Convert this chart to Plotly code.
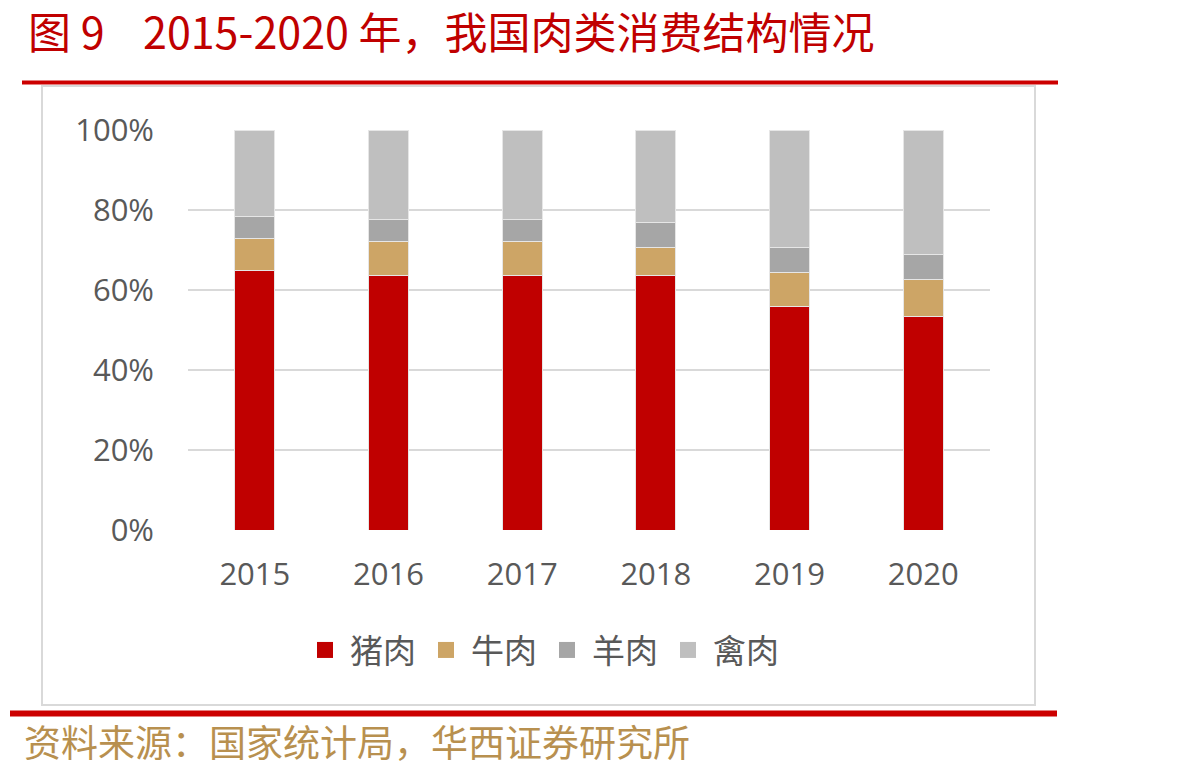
import plotly.graph_objects as go

years = ["2015", "2016", "2017", "2018", "2019", "2020"]
pork = [65.0, 63.6, 63.6, 63.6, 55.8, 53.3]
beef = [7.9, 8.6, 8.6, 7.1, 8.5, 9.4]
mutton = [5.4, 5.5, 5.5, 6.1, 6.3, 6.3]
poultry = [21.7, 22.3, 22.3, 23.2, 29.4, 31.0]
series_names = ["猪肉", "牛肉", "羊肉", "禽肉"]
colors = ["#C00000", "#CDA566", "#A6A6A6", "#BFBFBF"]

W, H = 1195, 772
L, R, T, B = 188, 990, 130, 530

def px(x):
    return (x - L) / (R - L)

def py(y):
    return (B - y) / (B - T)

fig = go.Figure()
for name, vals, c in zip(series_names, [pork, beef, mutton, poultry], colors):
    fig.add_trace(go.Bar(
        x=years, y=[v / 100 for v in vals], name=name,
        marker=dict(color=c, line=dict(color="#E6E6E6", width=1)),
        width=0.3, showlegend=False,
    ))
    fig.add_trace(go.Scatter(
        x=[None], y=[None], mode="markers", name=name,
        marker=dict(symbol="square", size=16, color=c),
        showlegend=True,
    ))

font_cjk = "Noto Sans CJK SC"
shapes = [
    dict(type="rect", xref="paper", yref="paper", x0=px(42), x1=px(1035), y0=py(86), y1=py(705),
         line=dict(color="#D9D9D9", width=2), layer="below"),
    dict(type="line", xref="paper", yref="paper", x0=px(22), x1=px(1058), y0=py(82.5), y1=py(82.5),
         line=dict(color="#CC0000", width=4)),
    dict(type="line", xref="paper", yref="paper", x0=px(10), x1=px(1057), y0=py(713.5), y1=py(713.5),
         line=dict(color="#CC0000", width=6)),
]

fig.update_layout(
    width=W, height=H,
    margin=dict(l=L, r=W - R, t=T, b=H - B),
    barmode="stack", bargap=0.7,
    plot_bgcolor="white", paper_bgcolor="white",
    shapes=shapes,
    xaxis=dict(showgrid=False, showline=False, ticks="", ticklabelstandoff=23,
               tickfont=dict(family="Open Sans", size=31, color="#595959")),
    yaxis=dict(range=[0, 1], dtick=0.2, tickformat=".0%", showgrid=True,
               gridcolor="#D9D9D9", gridwidth=2, zeroline=False, showline=False,
               ticks="", ticklen=0, ticklabelstandoff=33,
               tickfont=dict(family="Open Sans", size=31, color="#595959")),
    legend=dict(orientation="h", x=px(542), xanchor="center", y=py(650), yanchor="middle",
                traceorder="normal",
                font=dict(family=font_cjk, size=33, color="#595959"),
                itemwidth=40, tracegroupgap=0, bgcolor="rgba(0,0,0,0)"),
    annotations=[
        dict(text="图 9    2015-2020 年，我国肉类消费结构情况", xref="paper", yref="paper",
             x=px(26), y=py(30), xanchor="left", yanchor="middle", showarrow=False,
             font=dict(family=font_cjk, size=43, color="#C00000")),
        dict(text="资料来源：国家统计局，华西证券研究所", xref="paper", yref="paper",
             x=px(22), y=py(741), xanchor="left", yanchor="middle", showarrow=False,
             font=dict(family=font_cjk, size=37, color="#B8904F")),
    ],
)
fig.write_html("out.html")
